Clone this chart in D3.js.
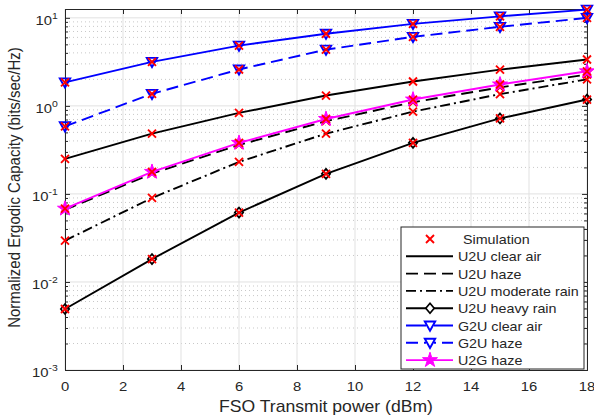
<!DOCTYPE html>
<html>
<head>
<meta charset="utf-8">
<script src="https://cdn.jsdelivr.net/npm/d3@7"></script>
<style>
body { margin: 0; background: #fff; }
svg text { font-family: "Liberation Sans", Arial, sans-serif; fill: #262626; }
</style>
</head>
<body>
<div id="chart"></div>
<script>
// data
var power = [0, 3, 6, 9, 12, 15, 18];
var u2uClear = [0.25, 0.484, 0.832, 1.31, 1.89, 2.58, 3.36];
var u2uHaze = [0.066, 0.17, 0.36, 0.67, 1.1, 1.62, 2.27];
var u2uModRain = [0.0295, 0.09, 0.231, 0.484, 0.86, 1.36, 2.0];
var u2uHeavyRain = [0.00493, 0.0182, 0.0614, 0.169, 0.38, 0.72, 1.18];
var g2uClear = [1.85, 3.16, 4.84, 6.6, 8.55, 10.4, 12.4];
var g2uHaze = [0.586, 1.37, 2.59, 4.36, 6.08, 7.9, 10.0];
var u2gHaze = [0.068, 0.178, 0.38, 0.71, 1.18, 1.75, 2.47];
var xTicks = [0, 2, 4, 6, 8, 10, 12, 14, 16, 18];
var yDecades = [-3, -2, -1, 0, 1];

var series = [
    {name: "U2U clear air", values: u2uClear, color: "#000", dash: null, marker: null},
    {name: "U2U haze", values: u2uHaze, color: "#000", dash: "12,6", marker: null},
    {name: "U2U moderate rain", values: u2uModRain, color: "#000", dash: "10,4,2,4", marker: null},
    {name: "U2U heavy rain", values: u2uHeavyRain, color: "#000", dash: null, marker: "diamond"},
    {name: "G2U clear air", values: g2uClear, color: "#0000ff", dash: null, marker: "triangle"},
    {name: "G2U haze", values: g2uHaze, color: "#0000ff", dash: "12,6", marker: "triangle"},
    {name: "U2G haze", values: u2gHaze, color: "#ff00ff", dash: null, marker: "star"}
];

var W = 594, H = 419;
var margin = {top: 9, right: 7, bottom: 49, left: 65},
    width = W - margin.left - margin.right,
    height = H - margin.top - margin.bottom;
var sx = 1.1; // the text in the picture is a little wider than it is tall

var svg = d3.select("#chart").append("svg")
    .attr("width", W)
    .attr("height", H)
    .append("g")
    .attr("transform", "translate(" + margin.left + "," + margin.top + ")");

var x = d3.scaleLinear().domain([0, 18]).range([0, width]);
var y = d3.scaleLog().domain([1e-3, 12.6]).range([height, 0]);

// text placed at (px,py), stretched horizontally
function label(parent, px, py, anchor, size, str) {
    return parent.append("g")
        .attr("transform", "translate(" + px + "," + py + ") scale(" + sx + ",1)")
        .append("text")
        .attr("text-anchor", anchor)
        .style("font-size", size + "px")
        .text(str);
}

// minor log values
var minors = [];
yDecades.forEach(function(d) {
    for (var k = 2; k <= 9; k++) {
        var v = k * Math.pow(10, d);
        if (v < y.domain()[1]) minors.push(v);
    }
});

// grid
svg.selectAll(".ming").data(minors).enter().append("line")
    .attr("x1", 0).attr("x2", width)
    .attr("y1", function(d) { return y(d); }).attr("y2", function(d) { return y(d); })
    .attr("stroke", "#c8c8c8").attr("stroke-width", 1).attr("stroke-dasharray", "1,3");
svg.selectAll(".xg").data(xTicks).enter().append("line")
    .attr("x1", function(d) { return x(d); }).attr("x2", function(d) { return x(d); })
    .attr("y1", 0).attr("y2", height)
    .attr("stroke", "#e1e1e1").attr("stroke-width", 1);
svg.selectAll(".yg").data(yDecades).enter().append("line")
    .attr("x1", 0).attr("x2", width)
    .attr("y1", function(d) { return y(Math.pow(10, d)); }).attr("y2", function(d) { return y(Math.pow(10, d)); })
    .attr("stroke", "#e1e1e1").attr("stroke-width", 1);

// axes with inward ticks
svg.append("g").attr("transform", "translate(0," + height + ")")
    .call(d3.axisBottom(x).tickValues(xTicks).tickSize(-5).tickFormat(""));
svg.append("g").call(d3.axisTop(x).tickValues(xTicks).tickSize(-5).tickFormat(""));

var decadeVals = yDecades.map(function(d) { return Math.pow(10, d); });
svg.append("g").call(d3.axisLeft(y).tickValues(decadeVals).tickSize(-5).tickFormat(""));
svg.append("g").attr("transform", "translate(" + width + ",0)")
    .call(d3.axisRight(y).tickValues(decadeVals).tickSize(-5).tickFormat(""));
svg.append("g").call(d3.axisLeft(y).tickValues(minors).tickSize(-3).tickFormat(""));
svg.append("g").attr("transform", "translate(" + width + ",0)")
    .call(d3.axisRight(y).tickValues(minors).tickSize(-3).tickFormat(""));

svg.selectAll(".domain").attr("stroke", "#262626").attr("stroke-width", 1);
svg.selectAll(".tick line").attr("stroke", "#262626");

// x tick labels
xTicks.forEach(function(t) {
    label(svg, x(t), height + 21, "middle", 13.5, String(t));
});

// y tick labels with superscript
yDecades.forEach(function(d) {
    var t = svg.append("g")
        .attr("transform", "translate(" + ((d < 0 ? 32 : 35.5) - margin.left) + "," + (y(Math.pow(10, d)) + 7) + ") scale(" + sx + ",1)")
        .append("text")
        .attr("text-anchor", "start")
        .style("font-size", "13.5px");
    t.append("tspan").text("10");
    t.append("tspan").attr("dy", -6).style("font-size", "9.5px").text(String(d));
});

// axis labels
label(svg, width / 2, height + 42, "middle", 16, "FSO Transmit power (dBm)");
svg.append("text")
    .attr("transform", "translate(-45.5," + (height / 2 - 2) + ") rotate(-90) scale(1,1.1)")
    .attr("text-anchor", "middle").style("font-size", "15px")
    .text("Normalized Ergodic Capacity (bits/sec/Hz)");

// lines
var line = d3.line()
    .x(function(d, i) { return x(power[i]); })
    .y(function(d) { return y(d); });

var starPath = d3.symbol().type(d3.symbolStar).size(70)();
var diamondPath = "M0,-5L4.2,0L0,5L-4.2,0Z";
var triPath = "M-5.2,-4L5.2,-4L0,5.2Z";

function drawMarker(g, type, color) {
    if (type === "diamond") {
        g.append("path").attr("d", diamondPath).attr("fill", "none").attr("stroke", color).attr("stroke-width", 1.7);
    } else if (type === "triangle") {
        g.append("path").attr("d", triPath).attr("fill", "none").attr("stroke", color).attr("stroke-width", 1.9);
    } else if (type === "star") {
        g.append("path").attr("d", starPath).attr("fill", color).attr("stroke", color).attr("stroke-width", 1);
    }
}
function drawCross(g) {
    g.append("path").attr("d", "M-4,-4L4,4M-4,4L4,-4")
        .attr("stroke", "#ff0000").attr("stroke-width", 1.9).attr("fill", "none");
}

series.forEach(function(s) {
    svg.append("path")
        .datum(s.values)
        .attr("fill", "none")
        .attr("stroke", s.color)
        .attr("stroke-width", 1.9)
        .attr("stroke-dasharray", s.dash)
        .attr("d", line);
});
series.forEach(function(s) {
    s.values.forEach(function(v, i) {
        var g = svg.append("g").attr("transform", "translate(" + x(power[i]) + "," + y(v) + ")");
        if (s.marker) drawMarker(g, s.marker, s.color);
        drawCross(g);
    });
});

// legend
var lg = svg.append("g").attr("transform", "translate(" + (401 - margin.left) + "," + (227 - margin.top) + ")");
lg.append("rect").attr("width", 183).attr("height", 142)
    .attr("fill", "#fff").attr("stroke", "#262626").attr("stroke-width", 1);
var rowH = 17.3, row0 = 12;
var lgCross = lg.append("g").attr("transform", "translate(29," + row0 + ")");
drawCross(lgCross);
label(lg, 62, row0 + 5, "start", 13, "Simulation");
series.forEach(function(s, i) {
    var yy = row0 + rowH * (i + 1);
    lg.append("line").attr("x1", 5).attr("x2", 52).attr("y1", yy).attr("y2", yy)
        .attr("stroke", s.color).attr("stroke-width", 1.9).attr("stroke-dasharray", s.dash);
    if (s.marker) {
        var mg = lg.append("g").attr("transform", "translate(29," + yy + ")");
        if (s.marker !== "star") mg.append("rect").attr("x", -4).attr("y", -3).attr("width", 8).attr("height", 6).attr("fill", "#fff");
        drawMarker(mg, s.marker, s.color);
    }
    label(lg, 57, yy + 5, "start", 13, s.name);
});
</script>
</body>
</html>
